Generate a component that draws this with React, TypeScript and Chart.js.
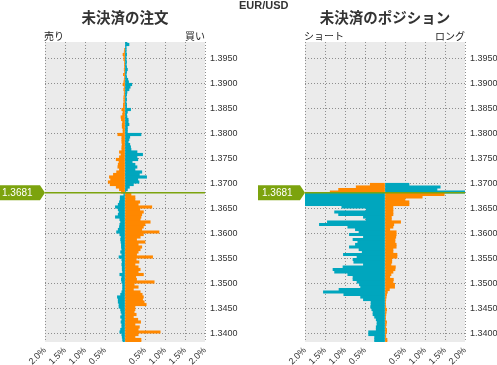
import React, { useEffect, useRef } from "react";
import { Chart, registerables } from "chart.js";

Chart.register(...registerables);

// ---------- data ----------
const PAIR = "EUR/USD";
const CURRENT_PRICE = 1.3681;
const BUCKET = 0.0005;

// lower bound of each price bucket, top to bottom
const PRICE_LEVELS = [
  1.398, 1.3975, 1.397, 1.3965, 1.396, 1.3955, 1.395, 1.3945, 1.394, 1.3935,
  1.393, 1.3925, 1.392, 1.3915, 1.391, 1.3905, 1.39, 1.3895, 1.389, 1.3885,
  1.388, 1.3875, 1.387, 1.3865, 1.386, 1.3855, 1.385, 1.3845, 1.384, 1.3835,
  1.383, 1.3825, 1.382, 1.3815, 1.381, 1.3805, 1.38, 1.3795, 1.379, 1.3785,
  1.378, 1.3775, 1.377, 1.3765, 1.376, 1.3755, 1.375, 1.3745, 1.374, 1.3735,
  1.373, 1.3725, 1.372, 1.3715, 1.371, 1.3705, 1.37, 1.3695, 1.369, 1.3685,
  1.368, 1.3675, 1.367, 1.3665, 1.366, 1.3655, 1.365, 1.3645, 1.364, 1.3635,
  1.363, 1.3625, 1.362, 1.3615, 1.361, 1.3605, 1.36, 1.3595, 1.359, 1.3585,
  1.358, 1.3575, 1.357, 1.3565, 1.356, 1.3555, 1.355, 1.3545, 1.354, 1.3535,
  1.353, 1.3525, 1.352, 1.3515, 1.351, 1.3505, 1.35, 1.3495, 1.349, 1.3485,
  1.348, 1.3475, 1.347, 1.3465, 1.346, 1.3455, 1.345, 1.3445, 1.344, 1.3435,
  1.343, 1.3425, 1.342, 1.3415, 1.341, 1.3405, 1.34, 1.3395, 1.339, 1.3385,
  1.338,
];

// 未決済の注文 : left side (売り) and right side (買い), % of total
const ORDER_SELL = [
  0, 0, 0, 0.01, 0.02, 0.05, 0.03, 0.03, 0.01, 0.01,
  0.01, 0.02, 0.01, 0.04, 0.01, 0.02, 0.03, 0.05, 0.02, 0.03,
  0.02, 0.02, 0.03, 0.03, 0.03, 0.04, 0.04, 0.08, 0.05, 0.06,
  0.1, 0.09, 0.06, 0.07, 0.07, 0.05, 0.05, 0.18, 0.08, 0.08,
  0.08, 0.07, 0.08, 0.08, 0.14, 0.1, 0.14, 0.22, 0.15, 0.17,
  0.18, 0.14, 0.21, 0.29, 0.39, 0.36, 0.42, 0.37, 0.22, 0.14,
  0.09, 0.03, 0.12, 0.12, 0.14, 0.17, 0.24, 0.17, 0.15, 0.17,
  0.24, 0.13, 0.11, 0.13, 0.14, 0.17, 0.21, 0.13, 0.1, 0.11,
  0.1, 0.09, 0.09, 0.08, 0.11, 0.08, 0.15, 0.08, 0.07, 0.08,
  0.07, 0.07, 0.06, 0.13, 0.08, 0.09, 0.08, 0.06, 0.06, 0.06,
  0.08, 0.11, 0.19, 0.17, 0.17, 0.15, 0.15, 0.11, 0.1, 0.08,
  0.11, 0.08, 0.1, 0.08, 0.08, 0.11, 0.13, 0.08, 0.07, 0.06,
  0.05,
];
const ORDER_BUY = [
  0.05, 0.1, 0.03, 0.03, 0.03, 0.04, 0.03, 0.03, 0.04, 0.03,
  0.04, 0.06, 0.04, 0.03, 0.04, 0.07, 0.09, 0.17, 0.13, 0.1,
  0.05, 0.04, 0.03, 0.04, 0.03, 0.04, 0.04, 0.14, 0.06, 0.04,
  0.05, 0.08, 0.08, 0.1, 0.06, 0.06, 0.06, 0.4, 0.12, 0.1,
  0.08, 0.12, 0.14, 0.15, 0.3, 0.44, 0.3, 0.32, 0.18, 0.25,
  0.3, 0.25, 0.42, 0.36, 0.54, 0.32, 0.35, 0.21, 0.11, 0.06,
  0.02, 0.15, 0.25, 0.25, 0.37, 0.33, 0.67, 0.37, 0.46, 0.42,
  0.4, 0.38, 0.63, 0.5, 0.46, 0.42, 0.85, 0.46, 0.38, 0.29,
  0.5, 0.33, 0.42, 0.38, 0.33, 0.29, 0.69, 0.28, 0.35, 0.25,
  0.33, 0.38, 0.33, 0.46, 0.27, 0.29, 0.73, 0.23, 0.33, 0.21,
  0.38, 0.43, 0.46, 0.44, 0.48, 0.53, 0.25, 0.25, 0.23, 0.28,
  0.21, 0.32, 0.39, 0.25, 0.36, 0.33, 0.88, 0.33, 0.25, 0.4,
  0.4,
];

// 未決済のポジション : left side (ショート) and right side (ロング), % of total
const POSITION_SHORT = [
  0, 0, 0, 0, 0, 0, 0, 0, 0, 0,
  0, 0, 0, 0, 0, 0, 0, 0, 0, 0,
  0, 0, 0, 0, 0, 0, 0, 0, 0, 0,
  0, 0, 0, 0, 0, 0, 0, 0, 0, 0,
  0, 0, 0, 0, 0, 0, 0, 0, 0, 0,
  0, 0, 0, 0, 0, 0, 0, 0.37, 0.72, 1.16,
  1.37, 2.3, 2.3, 2.3, 2.3, 2.3, 1.08, 0.47, 1.26, 1.16,
  0.54, 0.47, 1.44, 1.64, 0.93, 0.74, 0.65, 0.89, 0.54, 0.8,
  0.68, 0.74, 0.89, 0.65, 0.57, 1.04, 0.7, 0.8, 0.78, 0.54,
  1.05, 1.3, 1.26, 0.93, 0.8, 0.8, 0.7, 0.64, 0.61, 1.15,
  1.54, 1.03, 0.61, 0.54, 0.35, 0.35, 0.36, 0.33, 0.3, 0.3,
  0.26, 0.22, 0.2, 0.2, 0.22, 0.22, 0.41, 0.41, 0.26, 0.26,
  0.26,
];
const POSITION_LONG = [
  0, 0, 0, 0, 0, 0, 0, 0, 0, 0,
  0, 0, 0, 0, 0, 0, 0, 0, 0, 0,
  0, 0, 0, 0, 0, 0, 0, 0, 0, 0,
  0, 0, 0, 0, 0, 0, 0, 0, 0, 0,
  0, 0, 0, 0, 0, 0, 0, 0, 0, 0,
  0, 0, 0, 0, 0, 0, 0, 0.6, 1.38, 1.3,
  2.1, 1.48, 0.93, 0.5, 0.6, 0.6, 0.2, 0.2, 0.2, 0.2,
  0.16, 0.16, 0.39, 0.22, 0.2, 0.12, 0.28, 0.28, 0.27, 0.25,
  0.25, 0.28, 0.28, 0.2, 0.2, 0.3, 0.3, 0.17, 0.17, 0.15,
  0.26, 0.25, 0.2, 0.15, 0.12, 0.21, 0.2, 0.24, 0.24, 0.11,
  0.06, 0.04, 0.03, 0.02, 0.01, 0.01, 0.02, 0.04, 0.03, 0.02,
  0.01, 0.01, 0.04, 0.03, 0.02, 0.04, 0.04, 0.02, 0.02, 0.05,
  0.05,
];

const PRICE_TICKS = [
  1.34, 1.345, 1.35, 1.355, 1.36, 1.365, 1.37, 1.375, 1.38, 1.385, 1.39, 1.395,
];
const PCT_TICKS = [-2, -1.5, -1, -0.5, 0, 0.5, 1, 1.5, 2];
const PRICE_MIN = 1.33825;
const PRICE_MAX = 1.39825;

// ---------- styles ----------
const ORANGE = "#ff8800";
const TEAL = "#00a6be";
const MARK_GREEN = "#7ca30e";
const PLOT_BG = "#ebebeb";
const GRID = "#8e8e8e";
const TEXT = "#333333";
const JP_FONT = '"Noto Sans CJK JP", sans-serif';
const NUM_FONT = '"Liberation Sans", Arial, sans-serif';
const CANVAS_H = 365;

const decorPlugin = {
  id: "decor",
  beforeDraw(chart: any) {
    const { ctx, chartArea: a } = chart;
    ctx.save();
    ctx.fillStyle = PLOT_BG;
    ctx.fillRect(a.left, a.top, a.right - a.left, a.bottom - a.top);
    ctx.restore();
  },
  afterDatasetsDraw(chart: any) {
    const { ctx, chartArea: a } = chart;
    const y = chart.scales.y.getPixelForValue(CURRENT_PRICE);
    ctx.save();
    ctx.strokeStyle = MARK_GREEN;
    ctx.lineWidth = 1.5;
    ctx.beginPath();
    ctx.moveTo(a.left, y);
    ctx.lineTo(a.right, y);
    ctx.stroke();
    ctx.restore();
  },
  afterDraw(chart: any, _args: any, opts: any) {
    const { ctx, chartArea: a } = chart;
    ctx.save();
    // title
    ctx.fillStyle = TEXT;
    ctx.font = `bold 14.5px ${JP_FONT}`;
    ctx.textAlign = "center";
    ctx.textBaseline = "middle";
    ctx.fillText(opts.title, (a.left + a.right) / 2, 17);
    // side labels
    ctx.font = `10px ${JP_FONT}`;
    ctx.fillStyle = "#222";
    ctx.textBaseline = "bottom";
    ctx.textAlign = "left";
    ctx.fillText(opts.leftLabel, a.left - 1, a.top - 1);
    ctx.textAlign = "right";
    ctx.fillText(opts.rightLabel, a.right, a.top - 1);
    // current price marker
    const y = chart.scales.y.getPixelForValue(CURRENT_PRICE);
    const tip = a.left;
    const boxR = tip - 5;
    const boxL = boxR - 42;
    ctx.fillStyle = MARK_GREEN;
    ctx.beginPath();
    ctx.moveTo(boxL, y - 7.5);
    ctx.lineTo(boxR, y - 7.5);
    ctx.lineTo(tip, y);
    ctx.lineTo(boxR, y + 7.5);
    ctx.lineTo(boxL, y + 7.5);
    ctx.closePath();
    ctx.fill();
    ctx.fillStyle = "#ffffff";
    ctx.font = `10px ${NUM_FONT}`;
    ctx.textAlign = "left";
    ctx.textBaseline = "middle";
    ctx.fillText(CURRENT_PRICE.toFixed(4), boxL + 4, y + 0.5);
    ctx.restore();
  },
};

type PanelProps = {
  title: string;
  leftLabel: string;
  rightLabel: string;
  leftValues: number[];
  rightValues: number[];
  x: number;
  width: number;
  padLeft: number;
  axisWidth: number;
};

function buildConfig(p: PanelProps): any {
  const center = (v: number) => v + BUCKET / 2;
  const above = (i: number) => center(PRICE_LEVELS[i]) > CURRENT_PRICE;
  const points = (vals: number[], sign: number) =>
    PRICE_LEVELS.map((price, i) => ({
      x: vals[i] ? sign * vals[i] : null,
      y: center(price),
    }));
  const barCommon = {
    barPercentage: 1,
    categoryPercentage: 1,
    borderWidth: 0,
  };
  const tickFont = { family: NUM_FONT, size: 9 };
  return {
    type: "bar",
    data: {
      datasets: [
        {
          ...barCommon,
          label: p.leftLabel,
          data: points(p.leftValues, -1),
          backgroundColor: (c: any) => (above(c.dataIndex) ? ORANGE : TEAL),
        },
        {
          ...barCommon,
          label: p.rightLabel,
          data: points(p.rightValues, 1),
          backgroundColor: (c: any) => (above(c.dataIndex) ? TEAL : ORANGE),
        },
      ],
    },
    options: {
      indexAxis: "y",
      animation: false,
      responsive: false,
      devicePixelRatio: 1,
      layout: { padding: { left: p.padLeft, top: 42, right: 0, bottom: 0 } },
      scales: {
        x: {
          type: "linear",
          min: -2,
          max: 2,
          stacked: true,
          afterBuildTicks: (s: any) => {
            s.ticks = PCT_TICKS.map((v) => ({ value: v }));
          },
          afterFit: (s: any) => {
            s.height = 23;
          },
          grid: { color: GRID, lineWidth: 1, drawTicks: false },
          border: { display: false, dash: [1, 2] },
          ticks: {
            autoSkip: false,
            minRotation: 45,
            maxRotation: 45,
            padding: 3,
            color: TEXT,
            font: tickFont,
            callback: (v: any) =>
              Number(v) === 0 ? "" : Math.abs(Number(v)).toFixed(1) + "%",
          },
        },
        y: {
          type: "linear",
          position: "right",
          min: PRICE_MIN,
          max: PRICE_MAX,
          stacked: true,
          offset: false,
          afterBuildTicks: (s: any) => {
            s.ticks = PRICE_TICKS.map((v) => ({ value: v }));
          },
          afterFit: (s: any) => {
            s.width = p.axisWidth;
          },
          grid: { color: GRID, lineWidth: 1, drawTicks: false, offset: false },
          border: { display: false, dash: [1, 2] },
          ticks: {
            padding: 5,
            color: TEXT,
            font: tickFont,
            callback: (v: any) => Number(v).toFixed(4),
          },
        },
      },
      plugins: {
        legend: { display: false },
        tooltip: { enabled: false },
        decor: {
          title: p.title,
          leftLabel: p.leftLabel,
          rightLabel: p.rightLabel,
        },
      },
    },
    plugins: [decorPlugin],
  };
}

function Panel(props: PanelProps) {
  const ref = useRef<HTMLCanvasElement>(null);
  useEffect(() => {
    if (!ref.current) return;
    const chart = new Chart(ref.current, buildConfig(props));
    return () => chart.destroy();
  }, []);
  return (
    <canvas
      ref={ref}
      width={props.width}
      height={CANVAS_H}
      style={{
        position: "absolute",
        left: props.x,
        top: 0,
        width: props.width,
        height: CANVAS_H,
        display: "block",
      }}
    />
  );
}

export default function App() {
  return (
    <div
      style={{
        position: "fixed",
        left: 0,
        top: 0,
        width: 497,
        height: CANVAS_H,
        background: "#ffffff",
        overflow: "hidden",
      }}
    >
      <Panel
        title="未決済の注文"
        leftLabel="売り"
        rightLabel="買い"
        leftValues={ORDER_SELL}
        rightValues={ORDER_BUY}
        x={0}
        width={250}
        padLeft={45}
        axisWidth={45}
      />
      <Panel
        title="未決済のポジション"
        leftLabel="ショート"
        rightLabel="ロング"
        leftValues={POSITION_SHORT}
        rightValues={POSITION_LONG}
        x={250}
        width={247}
        padLeft={55}
        axisWidth={32}
      />
      <div
        style={{
          position: "absolute",
          left: 239,
          top: 0,
          font: `bold 11px ${NUM_FONT}`,
          lineHeight: "11px",
          color: TEXT,
          whiteSpace: "nowrap",
        }}
      >
        {PAIR}
      </div>
    </div>
  );
}
